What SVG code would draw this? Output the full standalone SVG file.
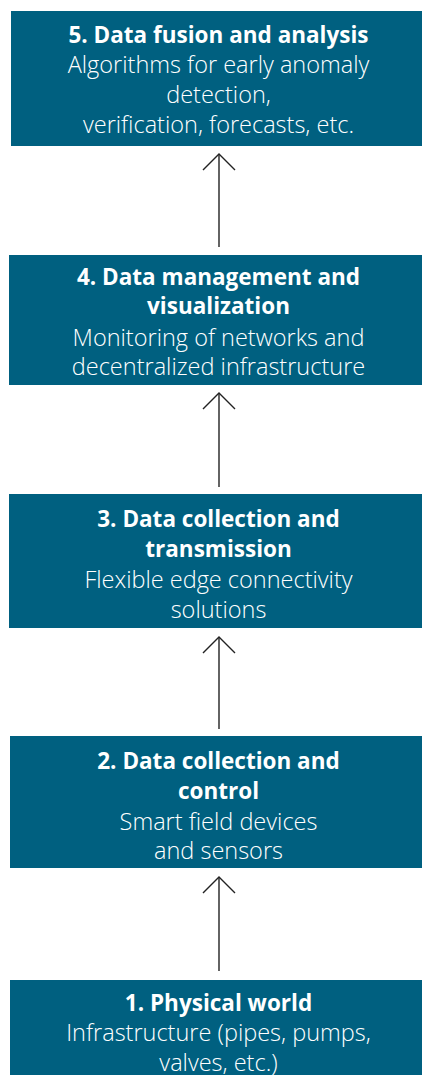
<svg xmlns="http://www.w3.org/2000/svg" width="422" height="1075" viewBox="0 0 422 1075">
<defs>
<style>
.box{fill:#006080}
.t{font-family:"Open Sans","Noto Sans","Liberation Sans",sans-serif;fill:#ffffff;text-anchor:middle}
.b{font-weight:700;font-size:22.5px}
.r{font-weight:300;font-size:23.5px}
.c{stroke:#222;stroke-width:1.4;fill:none}
</style>
</defs>
<rect width="422" height="1075" fill="#ffffff"/>
<g id="connectors">
<path class="c" d="M219,247 L219,154"/>
<path class="c" d="M203,170 L219,154 L235,170"/>
<path class="c" d="M219,487 L219,393"/>
<path class="c" d="M203,409 L219,393 L235,409"/>
<path class="c" d="M219,729 L219,637"/>
<path class="c" d="M203,653 L219,637 L235,653"/>
<path class="c" d="M219,971 L219,877"/>
<path class="c" d="M203,893 L219,877 L235,893"/>
</g>
<g id="node5">
<rect class="box" x="11" y="11" width="411" height="135"/>
<text class="t b" x="218.5" y="43">5. Data fusion and analysis</text>
<text class="t r" x="218.5" y="73">Algorithms for early anomaly</text>
<text class="t r" x="218.5" y="103">detection,</text>
<text class="t r" x="218.5" y="133">verification, forecasts, etc.</text>
</g>
<g id="node4">
<rect class="box" x="9" y="255" width="413" height="130"/>
<text class="t b" x="218.5" y="285">4. Data management and</text>
<text class="t b" x="218.5" y="314">visualization</text>
<text class="t r" x="218.5" y="346">Monitoring of networks and</text>
<text class="t r" x="218.5" y="375">decentralized infrastructure</text>
</g>
<g id="node3">
<rect class="box" x="9" y="494" width="413" height="134"/>
<text class="t b" x="218.5" y="527">3. Data collection and</text>
<text class="t b" x="218.5" y="557">transmission</text>
<text class="t r" x="218.5" y="588">Flexible edge connectivity</text>
<text class="t r" x="218.5" y="618">solutions</text>
</g>
<g id="node2">
<rect class="box" x="10" y="736" width="412" height="132"/>
<text class="t b" x="218.5" y="769">2. Data collection and</text>
<text class="t b" x="218.5" y="799">control</text>
<text class="t r" x="218.5" y="830">Smart field devices</text>
<text class="t r" x="218.5" y="859">and sensors</text>
</g>
<g id="node1">
<rect class="box" x="10" y="980" width="412" height="95"/>
<text class="t b" x="218.5" y="1011">1. Physical world</text>
<text class="t r" x="218.5" y="1041">Infrastructure (pipes, pumps,</text>
<text class="t r" x="218.5" y="1071">valves, etc.)</text>
</g>
</svg>
